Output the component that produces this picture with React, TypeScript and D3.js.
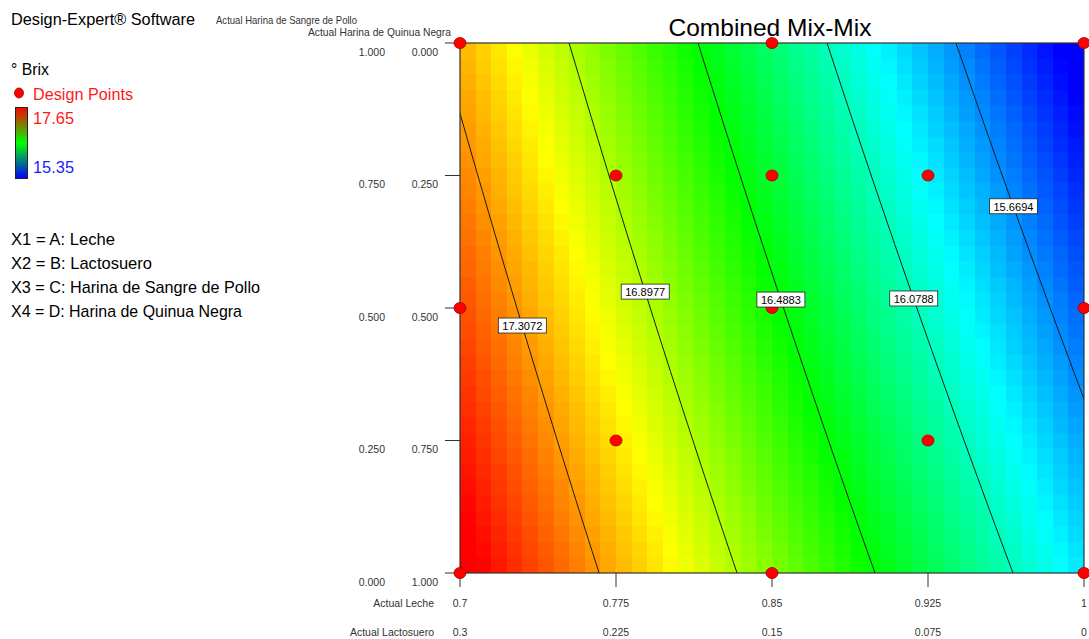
import React from "react";
import * as d3 from "d3";

// ---------- data ----------
const lecheTicks = [0.7, 0.775, 0.85, 0.925, 1];
const lecheTickLabels = ["0.7", "0.775", "0.85", "0.925", "1"];
const lactosueroTickLabels = ["0.3", "0.225", "0.15", "0.075", "0"];
const sangreTicks = [1, 0.75, 0.5, 0.25, 0];
const sangreTickLabels = ["1.000", "0.750", "0.500", "0.250", "0.000"];
const quinuaTickLabels = ["0.000", "0.250", "0.500", "0.750", "1.000"];

const designLeche = [0.7, 0.85, 1, 0.775, 0.85, 0.925, 0.7, 0.85, 1, 0.775, 0.925, 0.7, 0.85, 1];
const designSangre = [1, 1, 1, 0.75, 0.75, 0.75, 0.5, 0.5, 0.5, 0.25, 0.25, 0, 0, 0];

const contourLevels = [17.3072, 16.8977, 16.4883, 16.0788, 15.6694];
const contourLabelSangre = [0.466, 0.53, 0.515, 0.517, 0.691];

// fitted surface: intercept, A-mix (coded leche), C-mix (sangre), interaction
const surfaceCoef = [17.72, -1.852, -0.476, -0.129];
const colorRange = [15.35, 17.65];

// ---------- layout ----------
const W = 1089, H = 639;
const PL = 460, PR = 1084, PT = 43, PB = 573;
const FONT = "'Liberation Sans', Arial, sans-serif";

const xScale = d3.scaleLinear().domain([0.7, 1]).range([PL, PR]);
const yScale = d3.scaleLinear().domain([0, 1]).range([PB, PT]);
const hueScale = d3.scaleLinear().domain(colorRange).range([240, 0]).clamp(true);

const coded = (L: number) => (L - 0.7) / 0.3;
const response = (L: number, S: number) => {
  const u = coded(L);
  return surfaceCoef[0] + surfaceCoef[1] * u + surfaceCoef[2] * S + surfaceCoef[3] * u * S;
};
const contourLeche = (level: number, S: number) => {
  const u = (level - surfaceCoef[0] - surfaceCoef[2] * S) / (surfaceCoef[1] + surfaceCoef[3] * S);
  return 0.7 + 0.3 * u;
};
const colorOf = (v: number) => d3.hsl(hueScale(v), 1, 0.5).formatHex();

const NC = 40, NR = 34;

function T(props: any) {
  const { x, y, size, w, anchor, fill, children, weight } = props;
  return (
    <text
      x={x}
      y={y}
      fontSize={size}
      fontFamily={FONT}
      textAnchor={anchor || "start"}
      fill={fill || "#000"}
      fontWeight={weight || "normal"}
      textLength={w}
      lengthAdjust={w ? "spacingAndGlyphs" : undefined}
    >
      {children}
    </text>
  );
}

export default function App() {
  const cells: any[] = [];
  const cw = (PR - PL) / NC;
  const ch = (PB - PT) / NR;
  for (let i = 0; i < NC; i++) {
    for (let j = 0; j < NR; j++) {
      const x0 = PL + i * cw;
      const y0 = PT + j * ch;
      const L = xScale.invert(x0 + cw / 2);
      const S = yScale.invert(y0 + ch / 2);
      cells.push(
        <rect key={`c${i}-${j}`} x={x0} y={y0} width={cw + 0.6} height={ch + 0.6} fill={colorOf(response(L, S))} />
      );
    }
  }

  const sSamples = d3.range(0, 1.0001, 0.02);
  const contourPaths = contourLevels.map((lev, k) => {
    const line = d3
      .line<number>()
      .x((s) => xScale(contourLeche(lev, s)))
      .y((s) => yScale(s));
    return <path key={`l${k}`} d={line(sSamples) || ""} fill="none" stroke="#1a1a1a" strokeWidth={1} />;
  });

  const axisColor = "#333";

  return (
    <svg
      width={W}
      height={H}
      style={{ position: "fixed", left: 0, top: 0, background: "#fff" }}
      xmlns="http://www.w3.org/2000/svg"
    >
      <defs>
        <clipPath id="plotClip">
          <rect x={PL} y={PT} width={PR - PL} height={PB - PT} />
        </clipPath>
        <linearGradient id="barGrad" x1="0" y1="0" x2="0" y2="1">
          <stop offset="0%" stopColor="#ff0000" />
          <stop offset="50%" stopColor="#00ff00" />
          <stop offset="100%" stopColor="#0000ff" />
        </linearGradient>
      </defs>

      {/* legend */}
      <T x={11} y={25} size={17} w={184}>Design-Expert® Software</T>
      <T x={11} y={75} size={17} w={38}>° Brix</T>
      <ellipse cx={19} cy={93} rx={4.5} ry={5} fill="#ff0000" stroke="#900" strokeWidth={0.8} />
      <T x={33} y={100} size={17} w={100} fill="#ff1a1a">Design Points</T>
      <rect x={15.5} y={107.5} width={12} height={71} fill="url(#barGrad)" stroke="#222" strokeWidth={1} />
      <T x={33} y={124} size={17} w={41} fill="#ff1a1a">17.65</T>
      <T x={33} y={173} size={17} w={41} fill="#2222ff">15.35</T>
      <T x={11} y={245} size={17} w={104}>X1 = A: Leche</T>
      <T x={11} y={269} size={17} w={141}>X2 = B: Lactosuero</T>
      <T x={11} y={293} size={17} w={249}>X3 = C: Harina de Sangre de Pollo</T>
      <T x={11} y={317} size={17} w={231}>X4 = D: Harina de Quinua Negra</T>

      {/* title */}
      <T x={770} y={36} size={24} anchor="middle" w={203}>Combined Mix-Mix</T>

      {/* axis titles top-left (stacked so they do not collide) */}
      <T x={216} y={24} size={10.5} w={141} fill={axisColor}>Actual Harina de Sangre de Pollo</T>
      <T x={451} y={36} size={10.5} w={143} anchor="end" fill={axisColor}>Actual Harina de Quinua Negra</T>

      {/* heatmap */}
      <g clipPath="url(#plotClip)" shapeRendering="crispEdges">{cells}</g>

      {/* contour lines */}
      <g clipPath="url(#plotClip)">{contourPaths}</g>

      {/* plot border */}
      <rect x={PL} y={PT} width={PR - PL} height={PB - PT} fill="none" stroke="#333" strokeWidth={1.2} />

      {/* left ticks & labels */}
      {sangreTicks.map((s, i) => (
        <g key={`yt${i}`}>
          <line x1={445} x2={PL} y1={yScale(s)} y2={yScale(s)} stroke={axisColor} strokeWidth={1} />
          <T x={385} y={yScale(s) + 12.5} size={10.5} anchor="end" fill={axisColor}>{sangreTickLabels[i]}</T>
          <T x={438} y={yScale(s) + 12.5} size={10.5} anchor="end" fill={axisColor}>{quinuaTickLabels[i]}</T>
        </g>
      ))}

      {/* bottom ticks & labels */}
      {lecheTicks.map((L, i) => (
        <g key={`xt${i}`}>
          <line x1={xScale(L)} x2={xScale(L)} y1={PB} y2={PB + 14} stroke={axisColor} strokeWidth={1} />
          <T x={xScale(L)} y={607} size={10.5} anchor="middle" fill={axisColor}>{lecheTickLabels[i]}</T>
          <T x={xScale(L)} y={636} size={10.5} anchor="middle" fill={axisColor}>{lactosueroTickLabels[i]}</T>
        </g>
      ))}
      <T x={434} y={607} size={10.5} anchor="end" fill={axisColor}>Actual Leche</T>
      <T x={434} y={636} size={10.5} anchor="end" fill={axisColor}>Actual Lactosuero</T>

      {/* design points */}
      {designLeche.map((L, i) => (
        <ellipse
          key={`dp${i}`}
          cx={xScale(L)}
          cy={yScale(designSangre[i])}
          rx={6}
          ry={5.5}
          fill="#ff0000"
          stroke="#a00000"
          strokeWidth={0.8}
        />
      ))}

      {/* contour labels */}
      {contourLevels.map((lev, k) => {
        const s = contourLabelSangre[k];
        const cx = xScale(contourLeche(lev, s));
        const cy = yScale(s);
        return (
          <g key={`lb${k}`}>
            <rect x={cx - 24} y={cy - 8} width={48} height={15} fill="#fff" stroke="#222" strokeWidth={0.8} />
            <T x={cx} y={cy + 4} size={11} anchor="middle" w={40}>{lev.toFixed(4)}</T>
          </g>
        );
      })}
    </svg>
  );
}
